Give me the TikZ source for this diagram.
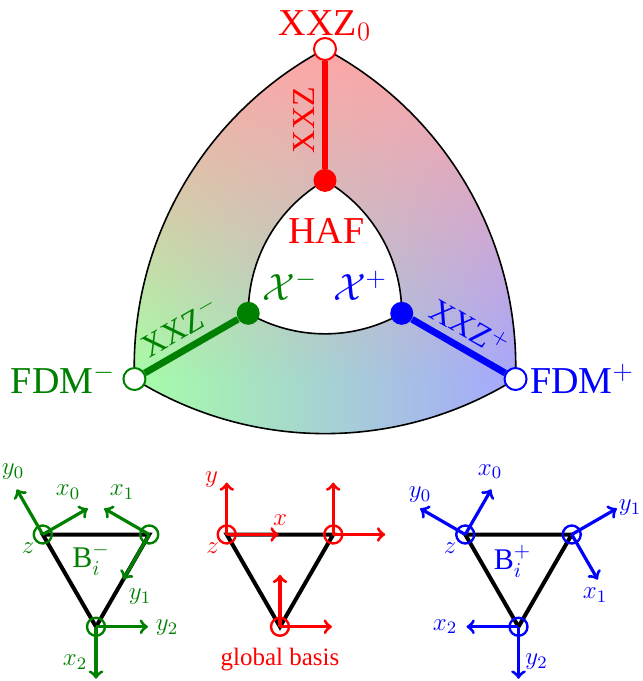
\RequirePackage{fix-cm}
\documentclass[tikz,border=0pt]{standalone}
\usepackage{fontspec}
\setmainfont{Liberation Serif}
\usepackage{amsmath}
\usetikzlibrary{calc,fadings}

\colorlet{minuscol}{green!50!black}
\colorlet{pluscol}{blue}
\colorlet{zerocol}{red}

% outer and inner curved triangles
\newcommand{\outershape}{(0,4.4) arc[start angle=118.04, end angle=181.96, radius=7.2]
  arc[start angle=238.04, end angle=301.96, radius=7.2]
  arc[start angle=-1.96, end angle=61.96, radius=7.2] -- cycle}
\newcommand{\innershape}{(0,1.772) arc[start angle=120, end angle=180, radius=3.069]
  arc[start angle=240, end angle=300, radius=3.069]
  arc[start angle=0, end angle=60, radius=3.069] -- cycle}

\tikzset{
  bigtxt/.style={font=\fontsize{19}{23}\selectfont},
  legtxt/.style={font=\fontsize{16}{19}\selectfont},
  smalltxt/.style={font=\fontsize{12.5}{15}\selectfont},
  basetxt/.style={font=\fontsize{15}{18}\selectfont},
  opendot/.style={circle, draw, fill=white, line width=1pt, minimum size=11pt, inner sep=0pt},
  fulldot/.style={circle, fill, minimum size=11.5pt, inner sep=0pt},
  leg/.style={line width=3.4pt},
  vtx/.style={circle, draw, line width=1.2pt, minimum size=9pt, inner sep=0pt},
  axis/.style={->, line width=1.6pt},
  tri/.style={line width=2pt},
}

\begin{document}
\begin{tikzpicture}[x=25pt,y=25pt]
    \useasboundingbox (-6.5,-8.24) rectangle (6.36,5.38);

    % Coloured band
    \shade[left color=green!35, right color=blue!35] \outershape;
    \begin{scope}
        \clip \outershape;
        \fill[red!35, path fading=south] (-4.2,-2.2) rectangle (4.2,4.4);
    \end{scope}
    \fill[white] \innershape;
    \draw[line width=0.8pt] \outershape;
    \draw[line width=0.8pt] \innershape;

    % Corners
    \node[opendot, draw=zerocol] (xxz0) at (0,4.4) {};
    \node[opendot, draw=minuscol] (fdmm) at (-3.811,-2.2) {};
    \node[opendot, draw=pluscol] (fdmp) at (3.811,-2.2) {};
    \node[fulldot, zerocol] (haf) at (0,1.772) {};
    \node[fulldot, minuscol] (chim) at (-1.535,-0.886) {};
    \node[fulldot, pluscol] (chip) at (1.535,-0.886) {};

    % Legs
    \draw[leg, zerocol] (haf) -- (xxz0) node[legtxt, pos=0.45, above, sloped] {XXZ};
    \draw[leg, minuscol] (fdmm) -- (chim) node[legtxt, midway, above, sloped] {XXZ$^-$};
    \draw[leg, pluscol] (chip) -- (fdmp) node[legtxt, midway, above, sloped] {XXZ$^+$};

    % Labels
    \node[bigtxt, zerocol, anchor=base] (lxxz0) at (0,4.68) {XXZ$_0$};
    \node[bigtxt, zerocol, anchor=base] (lhaf) at (0.03,0.52) {HAF};
    \node[bigtxt, minuscol, anchor=base] (lfdmm) at (-5.24,-2.48) {FDM$^-$};
    \node[bigtxt, pluscol, anchor=base] (lfdmp) at (5.14,-2.48) {FDM$^+$};
    \node[bigtxt, minuscol, anchor=base] (lchim) at (-0.7,-0.62) {$\mathcal{X}^-$};
    \node[bigtxt, pluscol, anchor=base] (lchip) at (0.7,-0.62) {$\mathcal{X}^+$};

    % Basis B^-
    \coordinate (mA) at (-5.645,-5.31);
    \coordinate (mB) at (-3.515,-5.31);
    \coordinate (mC) at (-4.58,-7.155);
    \draw[tri] (mA) -- (mB) -- (mC) -- cycle;
    \node[vtx, minuscol] (mAc) at (mA) {};
    \node[vtx, minuscol] (mBc) at (mB) {};
    \node[vtx, minuscol] (mCc) at (mC) {};
    \coordinate (mAx) at ($(mA)+(30:1.04)$);
    \coordinate (mAy) at ($(mA)+(120:1.04)$);
    \coordinate (mBx) at ($(mB)+(150:1.04)$);
    \coordinate (mBy) at ($(mB)+(240:1.04)$);
    \coordinate (mCx) at ($(mC)+(270:1.04)$);
    \coordinate (mCy) at ($(mC)+(0:1.04)$);
    \draw[axis, minuscol] (mA) -- (mAx);
    \draw[axis, minuscol] (mA) -- (mAy);
    \draw[axis, minuscol] (mB) -- (mBx);
    \draw[axis, minuscol] (mB) -- (mBy);
    \draw[axis, minuscol] (mC) -- (mCx);
    \draw[axis, minuscol] (mC) -- (mCy);
    \node[smalltxt, minuscol] (mly0) at (-6.24,-4.06) {$y_0$};
    \node[smalltxt, minuscol] (mlx0) at (-5.14,-4.46) {$x_0$};
    \node[smalltxt, minuscol] (mlx1) at (-4.06,-4.46) {$x_1$};
    \node[smalltxt, minuscol] (mly1) at (-3.7,-6.56) {$y_1$};
    \node[smalltxt, minuscol] (mly2) at (-3.16,-7.18) {$y_2$};
    \node[smalltxt, minuscol] (mlx2) at (-5.0,-7.86) {$x_2$};
    \node[smalltxt, minuscol] (mlz) at (-5.94,-5.58) {$z$};
    \node[basetxt, minuscol] (mlB) at (-4.68,-5.8) {$\mathrm{B}_i^-$};

    % Global basis
    \coordinate (gA) at (-1.965,-5.31);
    \coordinate (gB) at (0.165,-5.31);
    \coordinate (gC) at (-0.9,-7.155);
    \draw[tri] (gA) -- (gB) -- (gC) -- cycle;
    \node[vtx, zerocol] (gAc) at (gA) {};
    \node[vtx, zerocol] (gBc) at (gB) {};
    \node[vtx, zerocol] (gCc) at (gC) {};
    \coordinate (gAx) at ($(gA)+(0:1.04)$);
    \coordinate (gAy) at ($(gA)+(90:1.04)$);
    \coordinate (gBx) at ($(gB)+(0:1.04)$);
    \coordinate (gBy) at ($(gB)+(90:1.04)$);
    \coordinate (gCx) at ($(gC)+(0:1.04)$);
    \coordinate (gCy) at ($(gC)+(90:1.04)$);
    \draw[axis, zerocol] (gA) -- (gAx);
    \draw[axis, zerocol] (gA) -- (gAy);
    \draw[axis, zerocol] (gB) -- (gBx);
    \draw[axis, zerocol] (gB) -- (gBy);
    \draw[axis, zerocol] (gC) -- (gCx);
    \draw[axis, zerocol] (gC) -- (gCy);
    \node[smalltxt, zerocol] (gly) at (-2.27,-4.22) {$y$};
    \node[smalltxt, zerocol] (glx) at (-0.9,-5.02) {$x$};
    \node[smalltxt, zerocol] (glz) at (-2.25,-5.58) {$z$};
    \node[smalltxt, zerocol] (glname) at (-0.9,-7.82) {global basis};

    % Basis B^+
    \coordinate (pA) at (2.805,-5.31);
    \coordinate (pB) at (4.935,-5.31);
    \coordinate (pC) at (3.87,-7.155);
    \draw[tri] (pA) -- (pB) -- (pC) -- cycle;
    \node[vtx, pluscol] (pAc) at (pA) {};
    \node[vtx, pluscol] (pBc) at (pB) {};
    \node[vtx, pluscol] (pCc) at (pC) {};
    \coordinate (pAx) at ($(pA)+(60:1.04)$);
    \coordinate (pAy) at ($(pA)+(150:1.04)$);
    \coordinate (pBx) at ($(pB)+(300:1.04)$);
    \coordinate (pBy) at ($(pB)+(30:1.04)$);
    \coordinate (pCx) at ($(pC)+(180:1.04)$);
    \coordinate (pCy) at ($(pC)+(270:1.04)$);
    \draw[axis, pluscol] (pA) -- (pAx);
    \draw[axis, pluscol] (pA) -- (pAy);
    \draw[axis, pluscol] (pB) -- (pBx);
    \draw[axis, pluscol] (pB) -- (pBy);
    \draw[axis, pluscol] (pC) -- (pCx);
    \draw[axis, pluscol] (pC) -- (pCy);
    \node[smalltxt, pluscol] (ply0) at (1.9,-4.52) {$y_0$};
    \node[smalltxt, pluscol] (plx0) at (3.3,-4.05) {$x_0$};
    \node[smalltxt, pluscol] (ply1) at (6.1,-4.78) {$y_1$};
    \node[smalltxt, pluscol] (plx1) at (5.4,-6.52) {$x_1$};
    \node[smalltxt, pluscol] (plx2) at (2.4,-7.15) {$x_2$};
    \node[smalltxt, pluscol] (ply2) at (4.23,-7.85) {$y_2$};
    \node[smalltxt, pluscol] (plz) at (2.5,-5.58) {$z$};
    \node[basetxt, pluscol] (plB) at (3.75,-5.84) {$\mathrm{B}_i^+$};
\end{tikzpicture}
\end{document}
